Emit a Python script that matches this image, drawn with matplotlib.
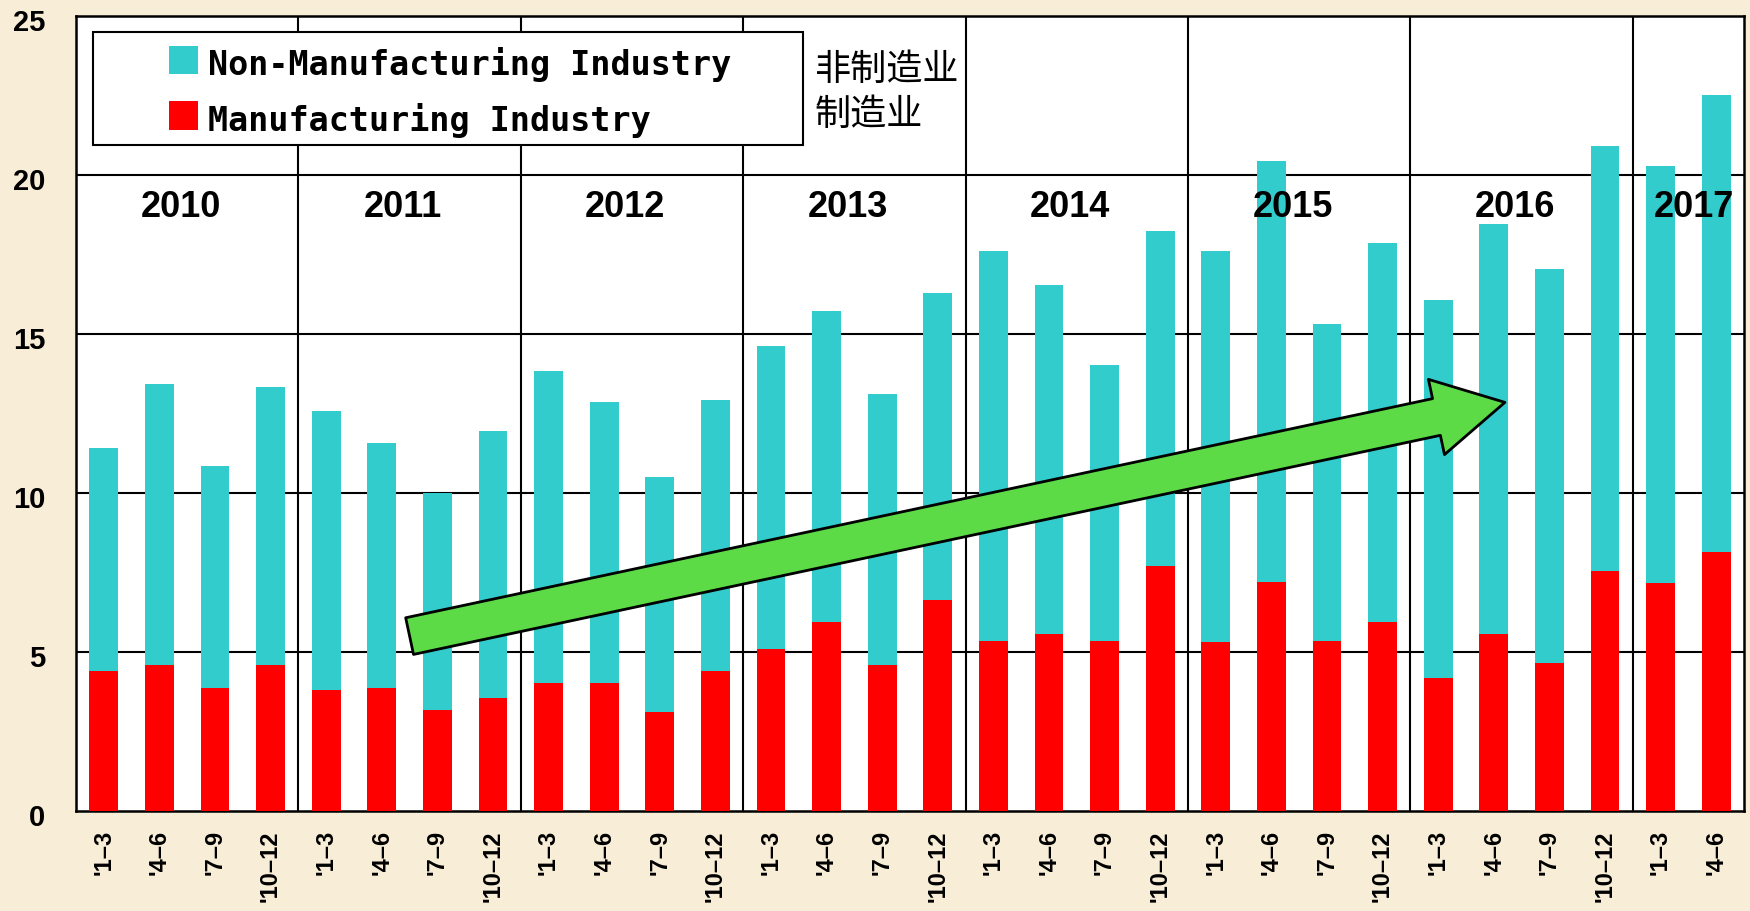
import matplotlib
matplotlib.use("Agg")
import matplotlib.pyplot as plt
from matplotlib.patches import Rectangle
from matplotlib.transforms import ScaledTranslation
import numpy as np

# ---------------- data ----------------
years = ["2010", "2011", "2012", "2013", "2014", "2015", "2016", "2017"]
quarter_labels = ["'1–3", "'4–6", "'7–9", "'10–12"] * 7 + ["'1–3", "'4–6"]
manufacturing = [4.40, 4.58, 3.88, 4.58,
                 3.81, 3.88, 3.18, 3.56,
                 4.02, 4.02, 3.11, 4.40,
                 5.11, 5.95, 4.58, 6.62,
                 5.35, 5.56, 5.35, 7.70,
                 5.32, 7.21, 5.35, 5.95,
                 4.19, 5.56, 4.65, 7.56,
                 7.18, 8.16]
non_manufacturing = [7.03, 8.85, 6.98, 8.74,
                     8.77, 7.69, 6.81, 8.39,
                     9.83, 8.84, 7.40, 8.53,
                     9.51, 9.76, 8.53, 9.68,
                     12.25, 10.99, 8.67, 10.54,
                     12.28, 13.24, 9.97, 11.90,
                     11.87, 12.89, 12.39, 13.34,
                     13.09, 14.36]
y_ticks = [0, 5, 10, 15, 20, 25]
legend_labels = ["Non-Manufacturing Industry", "Manufacturing Industry"]
legend_labels_cn = ["非制造业", "制造业"]

# ---------------- styles ----------------
C_NON = "#33CCCC"
C_MAN = "#FF0000"
BG = "#F8EDD6"

fig = plt.figure(figsize=(17.5, 9.12), dpi=100, facecolor=BG)
ax = fig.add_axes([76/1750, 100/912, 1668/1750, 795/912])
ax.set_facecolor("white")

n = len(manufacturing)
x = np.arange(n)
bw = 0.52
ax.bar(x, manufacturing, width=bw, color=C_MAN, zorder=3, linewidth=0)
ax.bar(x, non_manufacturing, width=bw, bottom=manufacturing, color=C_NON,
       zorder=3, linewidth=0)

ax.set_xlim(-0.5, n - 0.5)
ax.set_ylim(0, 25)

# grid lines
for yv in y_ticks[1:-1]:
    ax.axhline(yv, color="black", lw=1.5, zorder=1)
for b in range(4, n, 4):
    ax.axvline(b - 0.5, color="black", lw=1.5, zorder=1)

for s in ax.spines.values():
    s.set_linewidth(1.8)
    s.set_color("black")

# ticks
ax.set_yticks(y_ticks)
ax.set_yticklabels([str(v) for v in y_ticks], fontfamily="Liberation Sans",
                   fontweight="bold", fontsize=21)
ax.tick_params(axis="y", length=0, pad=22)
for lab in ax.get_yticklabels():
    lab.set_transform(lab.get_transform() + ScaledTranslation(0, -3/100, fig.dpi_scale_trans))

ax.set_xticks(x)
ax.set_xticklabels(quarter_labels, rotation=90, va="top", ha="center",
                   fontfamily="Liberation Sans", fontweight="bold", fontsize=17)
ax.tick_params(axis="x", length=0, pad=13)

# year labels
for i, yr in enumerate(years):
    idx = [k for k in range(4*i, min(4*i + 4, n))]
    cx = np.mean(idx) - (0.12 if len(idx) == 4 else -0.1)
    ax.text(cx, 19.02, yr, ha="center", va="center", fontfamily="Liberation Sans",
            fontweight="bold", fontsize=26, zorder=5)

# legend (manual box)
lx0, lx1 = 17/1668, 727/1668
ly0, ly1 = (812-146)/795, (812-33)/795
ax.add_patch(Rectangle((lx0, ly0), lx1 - lx0, ly1 - ly0, transform=ax.transAxes,
                       facecolor="white", edgecolor="black", lw=1.5, zorder=6))
rows = [(47, 75, 65, C_NON), (102, 131, 120.5, C_MAN)]
for (t, b, c, col), lab in zip(rows, legend_labels):
    ax.add_patch(Rectangle((93/1668, (812-b)/795), 29/1668, (b-t)/795,
                           transform=ax.transAxes, facecolor=col, edgecolor="none",
                           zorder=7))
    ax.text(132/1668, (812-c)/795, lab, transform=ax.transAxes, ha="left",
            va="center", fontfamily="DejaVu Sans Mono", fontweight="bold",
            fontsize=24, zorder=7)
for cy, lab in zip([70, 115], legend_labels_cn):
    ax.text((815-76)/1668, (812-cy)/795, lab, transform=ax.transAxes, ha="left",
            va="center", fontfamily=["Noto Sans CJK SC", "DejaVu Sans"],
            fontsize=26, zorder=7)

# trend arrow
ax.annotate("", xy=(25.2, 12.85), xytext=(5.5, 5.5),
            arrowprops=dict(arrowstyle="simple,head_length=2.52,head_width=2.77,tail_width=1.35",
                            mutation_scale=20, fc="#5CDB47", ec="black", lw=2,
                            shrinkA=0, shrinkB=0),
            zorder=8)

fig.savefig("out.png", dpi=100, facecolor=BG)
